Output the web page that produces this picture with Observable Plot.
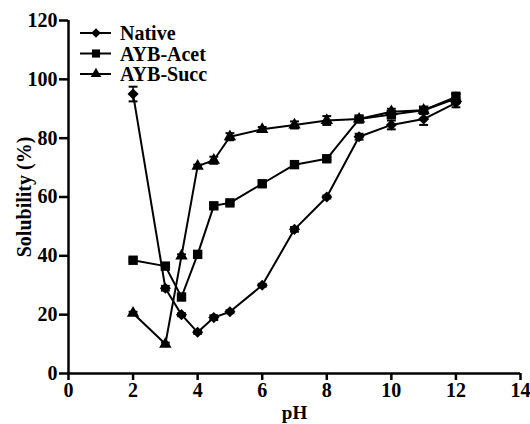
<!DOCTYPE html>
<html>
<head>
<meta charset="utf-8">
<script src="https://cdn.jsdelivr.net/npm/d3@7"></script>
<script src="https://cdn.jsdelivr.net/npm/@observablehq/plot@0.6"></script>
<style>
  html, body { margin: 0; padding: 0; background: white; }
  #chart { position: relative; width: 530px; height: 424px; }
</style>
</head>
<body>
<div id="chart"></div>
<script>
const pH = [2, 3, 3.5, 4, 4.5, 5, 6, 7, 8, 9, 10, 11, 12];
const nativeVals = [95, 29, 20, 14, 19, 21, 30, 49, 60, 80.5, 84.5, 86.5, 92];
const nativeErr  = [2.5, 0.8, 0.5, 0.5, 0.8, 0.5, 0.5, 0.8, 0.5, 1, 1.5, 2, 1.5];
const acetVals   = [38.5, 36.5, 26, 40.5, 57, 58, 64.5, 71, 73, 86.5, 88, 89.5, 94];
const acetErr    = [0.5, 0.5, 0.8, 0.5, 0.8, 0.5, 0.8, 0.5, 0.5, 0.5, 1.2, 0.5, 1.5];
const succVals   = [20.5, 10, 40, 70.5, 72.5, 80.5, 83, 84.5, 86, 86.5, 89, 89.5, 93.5];
const succErr    = [0.5, 0.5, 0.5, 0.5, 1.2, 1.2, 0.8, 1.2, 1.5, 0.5, 1, 1, 1.5];
const seriesNames = ["Native", "AYB-Acet", "AYB-Succ"];
const seriesSymbols = ["diamond2", "square", "triangle"];
const xTicks = [0, 2, 4, 6, 8, 10, 12, 14];
const yTicks = [0, 20, 40, 60, 80, 100, 120];

const allVals = [nativeVals, acetVals, succVals];
const allErr = [nativeErr, acetErr, succErr];
const rows = [];
seriesNames.forEach((s, si) => {
  pH.forEach((p, i) => rows.push({series: s, pH: p, v: allVals[si][i], e: allErr[si][i]}));
});

const capSymbol = {
  draw(ctx, size) {
    const w = Math.sqrt(size);
    ctx.moveTo(-w, 0); ctx.lineTo(w, 0);
  }
};

const font = "'Liberation Serif', 'Times New Roman', serif";
const symR = [5.0, 5.3, 4.6];

const chart = Plot.plot({
  width: 530,
  height: 424,
  marginLeft: 68,
  marginRight: 10,
  marginTop: 20,
  marginBottom: 51,
  x: {domain: [0, 14]},
  y: {domain: [0, 120]},
  symbol: {domain: seriesNames, range: seriesSymbols},
  style: {fontFamily: font, fontWeight: "bold", fontSize: "20px", color: "black", background: "white", overflow: "visible"},
  marks: [
    Plot.axisX({ticks: xTicks, tickSize: 7, tickPadding: 2, strokeWidth: 2.5, label: null, fontSize: 20}),
    Plot.axisY({ticks: yTicks, tickSize: 9, tickPadding: 2, strokeWidth: 2.5, label: null, fontSize: 20}),
    Plot.axisX({ticks: [], label: "pH", labelAnchor: "center", labelOffset: 45, labelArrow: "none", fontSize: 19}),
    Plot.axisY({ticks: [], label: "Solubility (%)", labelAnchor: "center", labelOffset: 52, labelArrow: "none", fontSize: 20}),
    Plot.ruleY([0], {stroke: "black", strokeWidth: 2.5}),
    Plot.ruleX([0], {stroke: "black", strokeWidth: 2.5}),
    Plot.ruleX(rows, {x: "pH", y1: d => d.v - d.e, y2: d => d.v + d.e, stroke: "black", strokeWidth: 1.5}),
    Plot.dot(rows, {x: "pH", y: d => d.v + d.e, symbol: () => capSymbol, r: 2.5, stroke: "black", strokeWidth: 2, fill: "none"}),
    Plot.dot(rows, {x: "pH", y: d => d.v - d.e, symbol: () => capSymbol, r: 2.5, stroke: "black", strokeWidth: 2, fill: "none"}),
    Plot.line(rows, {x: "pH", y: "v", z: "series", stroke: "black", strokeWidth: 2}),
    ...seriesNames.map((s, si) =>
      Plot.dot(rows, {filter: d => d.series === s, x: "pH", y: "v", symbol: "series", fill: "black", r: symR[si]}))
  ]
});

document.getElementById("chart").appendChild(chart);

// legend inside plot area, top-left
const svg = d3.select(chart);
const lg = svg.append("g").attr("font-family", font).attr("font-weight", "bold").attr("font-size", 20).attr("text-anchor", "start");
seriesNames.forEach((name, i) => {
  const y = 33 + i * 20.5;
  lg.append("line").attr("x1", 80).attr("x2", 111).attr("y1", y).attr("y2", y).attr("stroke", "black").attr("stroke-width", 2);
  const symType = [d3.symbolDiamond2, d3.symbolSquare, d3.symbolTriangle][i];
  lg.append("path").attr("d", d3.symbol(symType, symR[i] * symR[i] * Math.PI * 0.75)()).attr("transform", `translate(96,${y})`).attr("fill", "black");
  lg.append("text").attr("x", 120).attr("y", y).attr("dy", "0.35em").attr("fill", "black").attr("text-anchor", "start").text(name);
});
</script>
</body>
</html>
